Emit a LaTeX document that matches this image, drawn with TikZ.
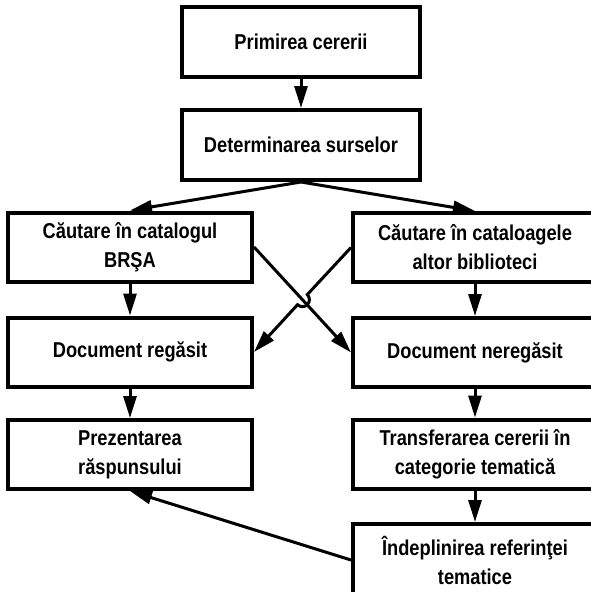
\documentclass[tikz,border=0pt]{standalone}
\usepackage{fontspec}
\newfontfamily\boxfont[FakeStretch=0.85]{Liberation Sans Bold}
\usepackage{tikz}
\usetikzlibrary{calc}
\usetikzlibrary{arrows.meta}
\tikzset{Box/.style={draw=black,line width=4pt,fill=white,minimum width=244pt,minimum height=69pt,inner sep=2pt,align=center,font=\boxfont\fontsize{21.5}{29}\selectfont}}
\tikzset{Arr/.style={line width=3pt,-{Triangle[length=22pt,width=13pt]}}}

\begin{document}
\begin{tikzpicture}[x=1pt,y=-1pt]
\useasboundingbox (0,0) rectangle (590,592);

\node[Box,minimum width=238pt,minimum height=70pt] (prim) at (301, 41.5) {Primirea cererii};
\node[Box,minimum width=238pt,minimum height=70pt] (det) at (301, 145) {Determinarea surselor};

\node[Box] (brsa) at (130, 247) {Căutare în catalogul\\BRŞA};
\node[Box] (altor) at (475, 247.5) {Căutare în cataloagele\\altor biblioteci};
\node[Box] (regasit) at (130, 352) {Document regăsit};
\node[Box] (neregasit) at (475, 352.5) {Document neregăsit};
\node[Box] (prez) at (130, 454.5) {Prezentarea\\răspunsului};
\node[Box] (transf) at (475, 454) {Transferarea cererii în\\categorie tematică};
\node[Box,minimum height=72pt] (indepl) at (475, 560) {Îndeplinirea referinţei\\tematice};

\draw[Arr] (prim) -- (det);
\draw[Arr] (det.south) -- (brsa.north);
\draw[Arr] (det.south) -- (altor.north);
\draw[Arr] (brsa) -- (regasit);
\draw[Arr] (altor) -- (neregasit);

 % crossing lines, the second one jumps over the first
\draw[Arr] (brsa.east) -- (neregasit.west);
\coordinate (X) at ($(altor.west)!0.5!(regasit.east)$);
\draw[Arr] (altor.west) -- ($(X)!7pt!(altor.west)$) arc[start angle=46,end angle=-134,radius=7pt] -- (regasit.east);

\draw[Arr] (regasit) -- (prez);
\draw[Arr] (neregasit) -- (transf);
\draw[Arr] (transf) -- (indepl);
\draw[Arr] (indepl.west) -- (prez.south);

\end{tikzpicture}
\end{document}
